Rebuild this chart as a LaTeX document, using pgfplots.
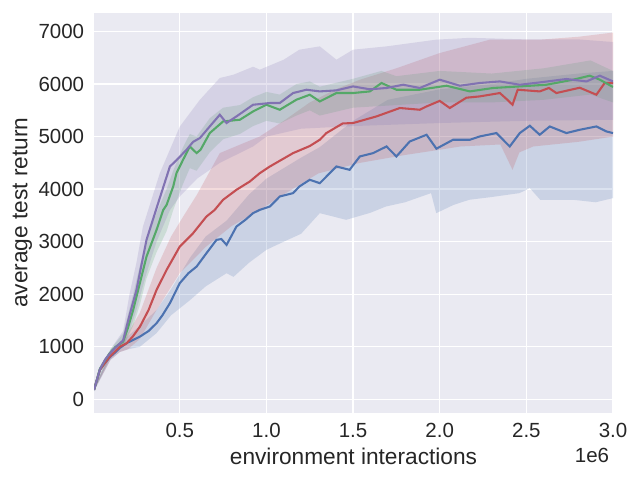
\documentclass[border=0pt]{standalone}
\usepackage{fontspec}
\setmainfont{Liberation Sans}
\usepackage{pgfplots}
\pgfplotsset{compat=1.18}
\definecolor{sbblue}{HTML}{4C72B0}
\definecolor{sbgreen}{HTML}{55A868}
\definecolor{sbred}{HTML}{C44E52}
\definecolor{sbpurple}{HTML}{8172B2}
\definecolor{sbbg}{HTML}{EAEAF2}
\definecolor{txt}{HTML}{262626}
\begin{document}
\begin{tikzpicture}
\path[use as bounding box] (0,0) rectangle (6.4in,4.8in);
\begin{axis}[
  at={(0.94in,0.673in)}, anchor=south west,
  width=5.19in, height=4.0in, scale only axis,
  xmin=0.005, xmax=3, ymin=-255, ymax=7358,
  axis background/.style={fill=sbbg},
  axis line style={draw=none},
  grid=major, grid style={white, line width=1pt},
  major tick length=0pt,
  xtick={0.5,1,1.5,2,2.5,3},
  xticklabels={0.5,1.0,1.5,2.0,2.5,3.0},
  ytick={0,1000,2000,3000,4000,5000,6000,7000},
  yticklabels={0,1000,2000,3000,4000,5000,6000,7000},
  tick label style={font=\fontsize{14.8}{17}\selectfont, text=txt},
  xticklabel style={yshift=-0.06in},
  yticklabel style={xshift=-0.05in},
  xlabel={environment interactions},
  ylabel={average test return},
  label style={font=\fontsize{16.4}{19}\selectfont, text=txt},
  xlabel style={at={(axis description cs:0.5,-0.11)}, anchor=center},
  ylabel style={at={(axis description cs:-0.138,0.5)}, anchor=center},
  clip=true,
]
% bands
\addplot[draw=none, fill=sbblue, fill opacity=0.2] coordinates {
(0.005,210)(0.1,850)(0.154,1050)(0.2,1200)(0.27,1400)(0.366,1700)(0.45,2100)(0.56,2700)(0.65,3100)(0.77,3400)(0.9,3900)(1.0,4200)(1.2,4600)(1.308,4800)(1.5,5300)(1.7,5700)(2.0,5900)(2.3,6000)(2.5,6100)(2.8,6200)(3.0,6250)
(3.0,3829)(2.9,3750)(2.77,3797)(2.58,3797)(2.52,4020)(2.46,3924)(2.3,3850)(2.17,3797)(2.08,3700)(1.98,3543)(1.95,3924)(1.8,3750)(1.69,3670)(1.6,3550)(1.46,3416)(1.308,3543)(1.2,3150)(1.1,3000)(1.0,2845)(0.9,2600)(0.81,2330)(0.77,2400)(0.65,2150)(0.56,1890)(0.45,1600)(0.366,1260)(0.27,1000)(0.2,950)(0.154,900)(0.1,750)(0.005,150)
} -- cycle;
\addplot[draw=none, fill=sbred, fill opacity=0.2] coordinates {
(0.005,200)(0.1,880)(0.154,1100)(0.2,1250)(0.27,1650)(0.366,2500)(0.45,3100)(0.52,3480)(0.6,3900)(0.731,4686)(0.85,4850)(0.96,5000)(1.1,5300)(1.25,5650)(1.4,5900)(1.54,6083)(1.75,6300)(2.0,6590)(2.29,6845)(2.58,6845)(2.8,6900)(3.0,6980)
(3.0,5000)(2.8,4900)(2.54,4812)(2.46,4700)(2.42,4368)(2.35,4850)(2.12,4812)(2.0,4750)(1.8,4650)(1.54,4500)(1.3,4300)(1.1,3900)(0.96,3600)(0.8,3300)(0.65,2900)(0.5,2400)(0.366,1700)(0.27,1150)(0.2,950)(0.154,900)(0.1,750)(0.005,170)
} -- cycle;
\addplot[draw=none, fill=sbgreen, fill opacity=0.2] coordinates {
(0.005,200)(0.1,950)(0.173,1250)(0.231,2000)(0.27,2550)(0.308,3050)(0.366,3550)(0.424,4000)(0.462,4350)(0.519,4800)(0.558,5050)(0.597,5000)(0.673,5350)(0.75,5550)(0.847,5600)(0.923,5750)(1.0,5850)(1.077,5800)(1.173,6000)(1.25,6050)(1.308,5950)(1.5,6100)(1.664,6250)(1.75,6150)(2.0,6250)(2.3,6200)(2.6,6300)(2.87,6450)(3.0,6250)
(3.0,5650)(2.87,5800)(2.6,5700)(2.3,5650)(2.0,5650)(1.75,5600)(1.5,5550)(1.308,5400)(1.25,5500)(1.173,5400)(1.077,5250)(1.0,5300)(0.923,5200)(0.847,5050)(0.75,4950)(0.673,4700)(0.597,4350)(0.558,4400)(0.519,4100)(0.462,3600)(0.424,3200)(0.366,2800)(0.308,2300)(0.27,1800)(0.231,1400)(0.173,1000)(0.1,820)(0.005,160)
} -- cycle;
\addplot[draw=none, fill=sbpurple, fill opacity=0.2] coordinates {
(0.005,200)(0.1,950)(0.173,1300)(0.21,2000)(0.25,2600)(0.287,3282)(0.385,4305)(0.5,5190)(0.616,5700)(0.731,6115)(0.81,6178)(0.923,6330)(0.962,6274)(1.1,6464)(1.19,6654)(1.308,6717)(1.404,6464)(1.5,6654)(1.693,6717)(1.98,6845)(2.174,6880)(2.5,6850)(2.8,6850)(3.0,6800)
(3.0,5320)(2.5,5300)(2.0,5258)(1.5,5200)(1.2,5150)(1.0,5000)(0.923,4812)(0.731,4500)(0.6,4200)(0.5,3860)(0.443,3600)(0.366,3000)(0.308,2400)(0.25,1700)(0.21,1300)(0.173,1000)(0.1,800)(0.005,160)
} -- cycle;
% lines
\addplot[sbblue, line width=1.5pt] coordinates {
(0.005,180)(0.02,350)(0.039,560)(0.07,700)(0.096,800)(0.13,900)(0.154,980)(0.2,1080)(0.27,1193)(0.32,1300)(0.366,1448)(0.40,1600)(0.443,1829)(0.5,2210)(0.55,2400)(0.597,2526)(0.654,2781)(0.712,3035)(0.74,3050)(0.770,2939)(0.827,3288)(0.88,3420)(0.923,3543)(0.962,3606)(1.02,3669)(1.077,3860)(1.154,3924)(1.19,4050)(1.25,4178)(1.308,4113)(1.404,4431)(1.48,4368)(1.539,4622)(1.616,4686)(1.693,4812)(1.75,4622)(1.827,4907)(1.924,5035)(1.981,4770)(2.077,4940)(2.174,4940)(2.231,5003)(2.327,5067)(2.404,4812)(2.462,5067)(2.52,5206)(2.577,5035)(2.635,5193)(2.731,5067)(2.808,5130)(2.904,5193)(2.962,5098)(3.0,5067)
};
\addplot[sbred, line width=1.5pt] coordinates {
(0.005,180)(0.02,350)(0.039,560)(0.07,700)(0.096,812)(0.154,1000)(0.193,1066)(0.23,1200)(0.27,1383)(0.32,1700)(0.366,2082)(0.424,2463)(0.5,2907)(0.577,3162)(0.654,3479)(0.70,3600)(0.75,3797)(0.827,3987)(0.904,4145)(0.962,4305)(1.02,4431)(1.154,4686)(1.25,4820)(1.308,4940)(1.346,5067)(1.44,5250)(1.5,5258)(1.635,5384)(1.77,5544)(1.885,5511)(1.924,5574)(2.0,5680)(2.058,5544)(2.154,5740)(2.231,5765)(2.347,5829)(2.39,5702)(2.42,5606)(2.45,5892)(2.577,5860)(2.63,5925)(2.673,5829)(2.808,5930)(2.904,5797)(2.952,6020)(3.0,6020)
};
\addplot[sbgreen, line width=1.5pt] coordinates {
(0.005,180)(0.02,350)(0.039,580)(0.07,750)(0.096,880)(0.13,1000)(0.173,1097)(0.2,1350)(0.231,1700)(0.27,2215)(0.308,2717)(0.366,3225)(0.404,3600)(0.424,3700)(0.462,4050)(0.481,4305)(0.519,4559)(0.558,4812)(0.597,4686)(0.62,4750)(0.673,5067)(0.75,5288)(0.847,5321)(0.923,5479)(1.0,5606)(1.077,5511)(1.173,5702)(1.25,5797)(1.308,5669)(1.404,5829)(1.5,5829)(1.597,5860)(1.664,6020)(1.75,5892)(1.885,5892)(2.039,5968)(2.174,5860)(2.308,5925)(2.462,5955)(2.616,5987)(2.77,6083)(2.866,6159)(2.924,6083)(3.0,5944)
};
\addplot[sbpurple, line width=1.5pt] coordinates {
(0.005,180)(0.02,350)(0.039,570)(0.07,760)(0.096,870)(0.13,990)(0.173,1120)(0.21,1600)(0.25,2082)(0.308,3035)(0.37,3680)(0.443,4431)(0.481,4550)(0.539,4749)(0.577,4900)(0.616,4972)(0.673,5193)(0.731,5416)(0.77,5258)(0.827,5384)(0.923,5606)(1.02,5639)(1.077,5639)(1.154,5829)(1.231,5892)(1.308,5860)(1.404,5880)(1.5,5955)(1.597,5900)(1.693,5925)(1.789,5987)(1.885,5925)(2.0,6083)(2.116,5968)(2.231,6020)(2.347,6050)(2.462,5987)(2.577,6031)(2.731,6096)(2.847,6050)(2.924,6159)(3.0,6050)
};
\end{axis}
\node[anchor=east, text=txt, font=\fontsize{14.8}{17}\selectfont] at (6.14in,0.25in) {1e6};
\end{tikzpicture}
\end{document}
